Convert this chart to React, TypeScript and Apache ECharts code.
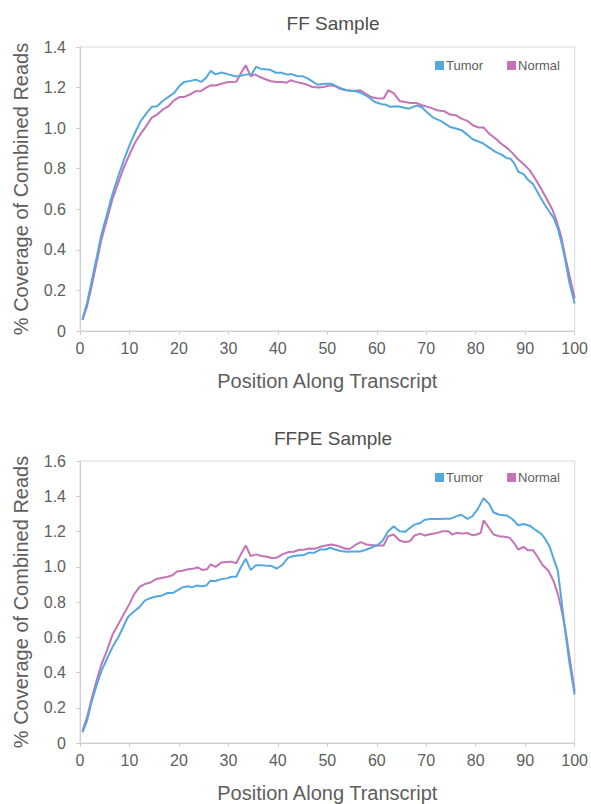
import React, { useEffect, useRef } from "react";
import * as echarts from "echarts";

const seriesNames = ["Tumor", "Normal"];
const chartTitles = ["FF Sample", "FFPE Sample"];
const xTicks = { min: 0, max: 100, interval: 10 };
const yMaxFF = 1.4;
const yMaxFFPE = 1.6;

const ffTumor: [number, number][] = [
  [0.5, 0.057], [1.4, 0.136], [2.4, 0.251], [3.4, 0.366], [4.3, 0.473], [5.5, 0.579], [6.6, 0.678],
  [7.8, 0.768], [8.9, 0.845], [10.1, 0.921], [11.2, 0.981], [12.3, 1.036], [13.5, 1.075], [14.5, 1.105],
  [15.6, 1.108], [16.7, 1.134], [17.9, 1.154], [19, 1.173], [20.2, 1.211], [21.1, 1.228], [22.3, 1.233],
  [23.4, 1.239], [24.5, 1.228], [25.5, 1.249], [26.4, 1.282], [27.4, 1.265], [28.6, 1.274], [30, 1.265],
  [31.3, 1.256], [32.3, 1.257], [33.7, 1.265], [34.7, 1.266], [35.6, 1.303], [36.7, 1.291], [38.4, 1.288],
  [39.6, 1.273], [40.7, 1.273], [41.8, 1.265], [42.8, 1.266], [43.8, 1.257], [45, 1.256], [46.1, 1.244],
  [47.1, 1.228], [48, 1.214], [49.5, 1.219], [50.8, 1.219], [52.4, 1.2], [53.9, 1.187], [55.8, 1.182],
  [56.9, 1.173], [58.1, 1.157], [59.6, 1.129], [61.1, 1.118], [61.9, 1.115], [62.7, 1.105], [64.2, 1.108],
  [66.5, 1.096], [68, 1.111], [69.1, 1.103], [70.3, 1.075], [71.4, 1.052], [72.9, 1.036], [74.8, 1.006],
  [76, 0.998], [77.1, 0.99], [78.3, 0.968], [79.4, 0.945], [81.3, 0.927], [82.5, 0.908], [84, 0.883],
  [85.1, 0.871], [86.3, 0.852], [87, 0.85], [87.8, 0.826], [88.6, 0.785], [89.7, 0.773], [90.5, 0.747],
  [91.6, 0.724], [92.8, 0.67], [93.9, 0.625], [95, 0.584], [95.8, 0.555], [96.6, 0.505], [97.3, 0.44],
  [98.1, 0.35], [98.9, 0.243], [100, 0.136],
];

const ffNormal: [number, number][] = [
  [0.5, 0.054], [1.4, 0.12], [2.4, 0.226], [3.4, 0.341], [4.3, 0.448], [5.5, 0.555], [6.6, 0.653],
  [7.8, 0.735], [8.9, 0.809], [10.1, 0.875], [11.2, 0.932], [12.3, 0.973], [13.5, 1.014], [14.5, 1.052],
  [15.6, 1.067], [16.7, 1.091], [17.9, 1.108], [19, 1.137], [20.2, 1.154], [21.1, 1.154], [22.3, 1.167],
  [23.4, 1.182], [24.5, 1.183], [25.5, 1.2], [26.4, 1.211], [27.4, 1.21], [28.6, 1.219], [29.7, 1.226],
  [30.6, 1.228], [31.6, 1.229], [32.5, 1.269], [33.5, 1.31], [34.5, 1.256], [35.4, 1.265], [36.4, 1.252],
  [37.5, 1.241], [38.6, 1.231], [39.8, 1.228], [40.9, 1.228], [41.8, 1.224], [42.6, 1.236], [43.6, 1.228],
  [44.7, 1.223], [45.9, 1.214], [47, 1.203], [48.2, 1.2], [49.3, 1.203], [50.5, 1.211], [51.6, 1.206],
  [52.7, 1.193], [53.9, 1.187], [55, 1.183], [56.6, 1.187], [57.7, 1.17], [58.8, 1.154], [60, 1.147],
  [61.4, 1.146], [62.3, 1.187], [63.4, 1.173], [64.6, 1.134], [65.7, 1.129], [66.8, 1.124], [68, 1.124],
  [69.1, 1.113], [70.3, 1.105], [71.4, 1.096], [72.2, 1.088], [73.7, 1.083], [74.8, 1.067], [76, 1.064],
  [77.1, 1.047], [78.3, 1.036], [79.4, 1.014], [80.6, 1.003], [81.6, 1.003], [82.7, 0.973], [84, 0.949],
  [85.1, 0.924], [86.3, 0.903], [87.4, 0.878], [88.6, 0.845], [89.7, 0.822], [90.9, 0.793], [92, 0.752],
  [93.2, 0.702], [94.3, 0.653], [95.5, 0.599], [96.4, 0.538], [97.3, 0.464], [98.1, 0.366], [99, 0.268],
  [100, 0.161],
];

const ffpeTumor: [number, number][] = [
  [0.5, 0.06], [1.4, 0.125], [2.4, 0.238], [3.4, 0.331], [4.3, 0.406], [5.5, 0.481], [6.6, 0.546],
  [7.8, 0.603], [8.9, 0.668], [9.7, 0.715], [10.8, 0.743], [12, 0.771], [13.1, 0.808], [14.3, 0.823],
  [15.4, 0.831], [16.5, 0.836], [17.7, 0.851], [18.7, 0.851], [19.6, 0.865], [20.7, 0.883], [21.9, 0.889],
  [22.6, 0.883], [23.6, 0.893], [24.5, 0.889], [25.5, 0.893], [26.4, 0.921], [27.4, 0.919], [28.6, 0.93],
  [29.7, 0.934], [30.6, 0.943], [31.6, 0.943], [32.5, 0.996], [33.5, 1.046], [34.5, 0.982], [35.6, 1.009],
  [36.7, 1.009], [37.9, 1.005], [38.6, 1.005], [39.8, 0.99], [40.9, 1.01], [42.1, 1.052], [43.2, 1.061],
  [44.4, 1.065], [45.1, 1.065], [46.3, 1.08], [47.4, 1.08], [48.6, 1.098], [49.7, 1.098], [50.5, 1.108],
  [51.6, 1.098], [52.7, 1.089], [53.9, 1.085], [55, 1.087], [56.6, 1.087], [57.7, 1.095], [58.8, 1.108],
  [60, 1.121], [61.1, 1.145], [62.3, 1.201], [63.4, 1.229], [64.6, 1.201], [65.7, 1.198], [66.7, 1.22],
  [67.6, 1.239], [68.8, 1.248], [69.7, 1.267], [71, 1.271], [72.6, 1.271], [73.7, 1.272], [74.8, 1.272],
  [76, 1.286], [77.1, 1.295], [78.3, 1.272], [79.3, 1.286], [80.4, 1.327], [81.6, 1.389], [82.7, 1.357],
  [83.6, 1.308], [84.8, 1.295], [86.3, 1.291], [87.4, 1.271], [88.6, 1.235], [89.7, 1.243], [90.9, 1.233],
  [92, 1.211], [93.2, 1.188], [93.9, 1.164], [94.9, 1.117], [95.8, 1.042], [96.6, 0.977], [97.3, 0.818],
  [98.1, 0.631], [99, 0.443], [100, 0.275],
];

const ffpeNormal: [number, number][] = [
  [0.5, 0.069], [1.4, 0.144], [2.4, 0.256], [3.4, 0.359], [4.3, 0.443], [5.5, 0.528], [6.6, 0.616],
  [7.8, 0.677], [8.9, 0.734], [10.1, 0.795], [11, 0.846], [12.1, 0.887], [13.1, 0.902], [14.3, 0.911],
  [15.4, 0.93], [16.5, 0.936], [17.7, 0.943], [18.7, 0.952], [19.6, 0.973], [20.7, 0.977], [21.9, 0.986],
  [23, 0.99], [23.8, 0.996], [24.7, 0.982], [25.7, 0.986], [26.4, 1.014], [27.4, 0.999], [28.6, 1.024],
  [29.7, 1.027], [30.6, 1.029], [31.6, 1.02], [32.5, 1.07], [33.5, 1.121], [34.5, 1.061], [35.6, 1.07],
  [36.7, 1.061], [37.9, 1.057], [38.8, 1.048], [39.8, 1.052], [40.9, 1.07], [42.1, 1.083], [43.2, 1.085],
  [44.2, 1.095], [45.4, 1.098], [46.4, 1.104], [47.4, 1.102], [48.6, 1.113], [49.7, 1.121], [50.8, 1.126],
  [51.8, 1.121], [52.7, 1.112], [53.7, 1.102], [54.6, 1.102], [55.8, 1.126], [56.8, 1.14], [57.9, 1.126],
  [58.8, 1.123], [60, 1.121], [61.4, 1.121], [62.3, 1.173], [63.4, 1.183], [64.6, 1.149], [65.7, 1.14],
  [66.7, 1.145], [67.6, 1.177], [68.8, 1.188], [69.7, 1.177], [71, 1.186], [72.2, 1.192], [73.3, 1.201],
  [74.5, 1.201], [75.2, 1.183], [76.2, 1.192], [77.4, 1.188], [78.3, 1.192], [79.3, 1.179], [80.2, 1.183],
  [81, 1.192], [81.6, 1.263], [82.7, 1.22], [83.6, 1.183], [84.8, 1.173], [85.8, 1.17], [86.9, 1.164],
  [87.7, 1.136], [88.6, 1.098], [89.7, 1.113], [90.5, 1.093], [91.6, 1.093], [92.4, 1.061], [93.5, 1.01],
  [94.7, 0.977], [95.7, 0.921], [96.6, 0.846], [97.3, 0.762], [98.1, 0.649], [99, 0.481], [100, 0.294],
];

const TUMOR_COLOR = "#54a8de";
const NORMAL_COLOR = "#c373b6";
const FONT = "'Liberation Sans', Arial, Helvetica, sans-serif";
const TEXT = "#5e5e5e";
const LINE = "#cfcfcf";

export default function App() {
  const ref = useRef<HTMLDivElement>(null);

  useEffect(() => {
    if (!ref.current) return;
    const chart = echarts.init(ref.current, undefined, { renderer: "svg" });

    const grids = [
      { left: 80, right: 16, top: 47, height: 284 },
      { left: 80, right: 16, top: 461, height: 285 },
    ];
    const yMaxes = [yMaxFF, yMaxFFPE];
    const datasets = [
      [ffTumor, ffNormal],
      [ffpeTumor, ffpeNormal],
    ];
    const legendTops = [54, 466];
    const titleTops = [9, 424];

    const option: any = {
      animation: false,
      backgroundColor: "#ffffff",
      textStyle: { fontFamily: FONT },
      title: chartTitles.map((t, i) => ({
        text: t,
        left: 328,
        top: titleTops[i],
        textAlign: "center",
        textStyle: { fontFamily: FONT, fontSize: 19, fontWeight: "normal", color: "#4e4e4e" },
      })),
      legend: legendTops.map((top) => ({
        data: seriesNames,
        left: 430,
        top,
        icon: "rect",
        itemWidth: 9,
        itemHeight: 9,
        itemGap: 24,
        textStyle: { fontFamily: FONT, fontSize: 13, color: TEXT, padding: [0, 0, 0, -3] },
      })),
      grid: grids.map((g) => ({
        ...g,
        show: true,
        borderColor: "#d9d9d9",
        borderWidth: 1,
        backgroundColor: "transparent",
      })),
      xAxis: grids.map((_, i) => ({
        type: "value",
        gridIndex: i,
        min: xTicks.min,
        max: xTicks.max,
        interval: xTicks.interval,
        name: "Position Along Transcript",
        nameLocation: "middle",
        nameGap: 40,
        nameTextStyle: { fontFamily: FONT, fontSize: 20, color: TEXT },
        axisLine: { show: true, lineStyle: { color: LINE, width: 1 } },
        axisTick: { show: true, length: 4, lineStyle: { color: LINE } },
        axisLabel: { fontFamily: FONT, fontSize: 16, color: TEXT, margin: 9 },
        splitLine: { show: false },
      })),
      yAxis: grids.map((_, i) => ({
        type: "value",
        gridIndex: i,
        min: 0,
        max: yMaxes[i],
        interval: 0.2,
        name: "% Coverage of Combined Reads",
        nameLocation: "middle",
        nameGap: 49,
        nameTextStyle: { fontFamily: FONT, fontSize: 20, color: TEXT },
        axisLine: { show: true, lineStyle: { color: LINE, width: 1 } },
        axisTick: { show: true, length: 4, lineStyle: { color: LINE } },
        axisLabel: {
          fontFamily: FONT,
          fontSize: 16,
          color: TEXT,
          margin: 14,
          formatter: (v: number) => (v === 0 ? "0" : v.toFixed(1)),
        },
        splitLine: { show: false },
      })),
      series: datasets.flatMap((pair, i) =>
        pair.map((data, j) => ({
          type: "line",
          name: seriesNames[j],
          xAxisIndex: i,
          yAxisIndex: i,
          data,
          showSymbol: false,
          symbol: "none",
          lineStyle: { width: 2, color: j === 0 ? TUMOR_COLOR : NORMAL_COLOR },
          itemStyle: { color: j === 0 ? TUMOR_COLOR : NORMAL_COLOR },
          z: j === 0 ? 3 : 2,
        }))
      ),
    };

    chart.setOption(option);
    return () => chart.dispose();
  }, []);

  return (
    <div
      ref={ref}
      style={{ position: "fixed", left: 0, top: 0, width: 591, height: 804, background: "#fff" }}
    />
  );
}
